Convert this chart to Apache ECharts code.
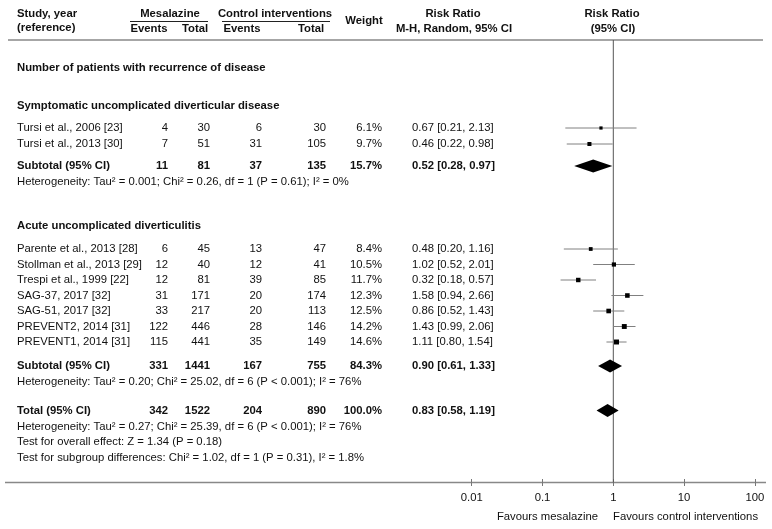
<!DOCTYPE html>
<html><head><meta charset="utf-8">
<script src="https://cdn.jsdelivr.net/npm/echarts@6/dist/echarts.min.js"></script>
<style>html,body{margin:0;padding:0;background:#fff}#c{width:772px;height:529px}</style>
</head><body><div id="c"></div>
<script>
// ---------- data ----------
const studyNames = ["Tursi et al., 2006 [23]","Tursi et al., 2013 [30]","Parente et al., 2013 [28]","Stollman et al., 2013 [29]","Trespi et al., 1999 [22]","SAG-37, 2017 [32]","SAG-51, 2017 [32]","PREVENT2, 2014 [31]","PREVENT1, 2014 [31]"];
const mesEvents = [4,7,6,12,12,31,33,122,115];
const mesTotal  = [30,51,45,40,81,171,217,446,441];
const ctlEvents = [6,31,13,12,39,20,20,28,35];
const ctlTotal  = [30,105,47,41,85,174,113,146,149];
const weights   = [6.1,9.7,8.4,10.5,11.7,12.3,12.5,14.2,14.6];
const rr = [0.67,0.46,0.48,1.02,0.32,1.58,0.86,1.43,1.11];
const lo = [0.21,0.22,0.20,0.52,0.18,0.94,0.52,0.99,0.80];
const hi = [2.13,0.98,1.16,2.01,0.57,2.66,1.43,2.06,1.54];

const sumNames     = ["Subtotal (95% CI)","Subtotal (95% CI)","Total (95% CI)"];
const sumMesEvents = [11,331,342];
const sumMesTotal  = [81,1441,1522];
const sumCtlEvents = [37,167,204];
const sumCtlTotal  = [135,755,890];
const sumWeights   = [15.7,84.3,100.0];
const sumRR = [0.52,0.90,0.83];
const sumLo = [0.28,0.61,0.58];
const sumHi = [0.97,1.33,1.19];

const outcomeTitle = "Number of patients with recurrence of disease";
const groupTitles = ["Symptomatic uncomplicated diverticular disease","Acute uncomplicated diverticulitis"];
const hetTexts = [
  "Heterogeneity: Tau\u00b2 = 0.001; Chi\u00b2 = 0.26, df = 1 (P = 0.61); I\u00b2 = 0%",
  "Heterogeneity: Tau\u00b2 = 0.20; Chi\u00b2 = 25.02, df = 6 (P < 0.001); I\u00b2 = 76%",
  "Heterogeneity: Tau\u00b2 = 0.27; Chi\u00b2 = 25.39, df = 6 (P < 0.001); I\u00b2 = 76%"
];
const testTexts = [
  "Test for overall effect: Z = 1.34 (P = 0.18)",
  "Test for subgroup differences: Chi\u00b2 = 1.02, df = 1 (P = 0.31), I\u00b2 = 1.8%"
];
const tickLabels = ["0.01","0.1","1","10","100"];
const favourLeft = "Favours mesalazine";
const favourRight = "Favours control interventions";

// ---------- layout (row positions, page y) ----------
const studyRowY = [128,144,249,264.5,280,295.5,311,326.5,342];
const sumRowY   = [166,366,410.5];
const hetRowY   = [182,382,426.5];
const testRowY  = [442,457.5];
const groupRowY = [106,226];
const outcomeY  = 68;
const TOP = 40, AXIS_Y = 482.5;

const FONT = '"Liberation Sans", Arial, Helvetica, sans-serif';
const FS = 11.3;
const COL = {name:17, mesE:168, mesT:210, ctlE:262, ctlT:326, w:382, rr:412};
const ink = '#111';

function txt(t, x, y, align, bold, extra) {
  return Object.assign({type:'text', x:x, y:y, silent:true, style:{
    text:t, fill:ink, font:(bold?'bold ':'')+FS+'px '+FONT,
    textAlign:align||'left', textVerticalAlign:'middle'}}, extra||{});
}
function fmtRR(v,l,h){return v.toFixed(2)+' ['+l.toFixed(2)+', '+h.toFixed(2)+']';}

const g = [];
// header
g.push(txt('Study, year',COL.name,14,'left',true));
g.push(txt('(reference)',COL.name,28,'left',true));
g.push(txt('Mesalazine',170,14,'center',true));
g.push(txt('Control interventions',275,14,'center',true));
g.push(txt('Events',149,29,'center',true));
g.push(txt('Total',195,29,'center',true));
g.push(txt('Events',242,29,'center',true));
g.push(txt('Total',311,29,'center',true));
g.push(txt('Weight',364,21,'center',true));
g.push(txt('Risk Ratio',453,14,'center',true));
g.push(txt('M-H, Random, 95% CI',454,29,'center',true));
g.push(txt('Risk Ratio',612,14,'center',true));
g.push(txt('(95% CI)',613,29,'center',true));
g.push({type:'line',silent:true,shape:{x1:130,y1:21.5,x2:208,y2:21.5},style:{stroke:'#222',lineWidth:1}});
g.push({type:'line',silent:true,shape:{x1:222,y1:21.5,x2:330,y2:21.5},style:{stroke:'#222',lineWidth:1}});
g.push({type:'line',silent:true,shape:{x1:8,y1:TOP,x2:763,y2:TOP},style:{stroke:'#888',lineWidth:1.5}});
g.push({type:'line',silent:true,shape:{x1:5,y1:AXIS_Y,x2:766,y2:AXIS_Y},style:{stroke:'#888',lineWidth:1.5}});

g.push(txt(outcomeTitle,COL.name,outcomeY,'left',true));
groupTitles.forEach((t,i)=>g.push(txt(t,COL.name,groupRowY[i],'left',true)));
studyNames.forEach((n,i)=>{
  const y = studyRowY[i];
  g.push(txt(n,COL.name,y,'left',false));
  g.push(txt(String(mesEvents[i]),COL.mesE,y,'right',false));
  g.push(txt(String(mesTotal[i]),COL.mesT,y,'right',false));
  g.push(txt(String(ctlEvents[i]),COL.ctlE,y,'right',false));
  g.push(txt(String(ctlTotal[i]),COL.ctlT,y,'right',false));
  g.push(txt(weights[i].toFixed(1)+'%',COL.w,y,'right',false));
  g.push(txt(fmtRR(rr[i],lo[i],hi[i]),COL.rr,y,'left',false));
});
sumNames.forEach((n,i)=>{
  const y = sumRowY[i];
  g.push(txt(n,COL.name,y,'left',true));
  g.push(txt(String(sumMesEvents[i]),COL.mesE,y,'right',true));
  g.push(txt(String(sumMesTotal[i]),COL.mesT,y,'right',true));
  g.push(txt(String(sumCtlEvents[i]),COL.ctlE,y,'right',true));
  g.push(txt(String(sumCtlTotal[i]),COL.ctlT,y,'right',true));
  g.push(txt(sumWeights[i].toFixed(1)+'%',COL.w,y,'right',true));
  g.push(txt(fmtRR(sumRR[i],sumLo[i],sumHi[i]),COL.rr,y,'left',true));
});
hetTexts.forEach((t,i)=>g.push(txt(t,COL.name,hetRowY[i],'left',false)));
testTexts.forEach((t,i)=>g.push(txt(t,COL.name,testRowY[i],'left',false)));
g.push(txt(favourLeft,598,517,'right',false));
g.push(txt(favourRight,613,517,'left',false));

const studyData = rr.map((v,i)=>[v,lo[i],hi[i],weights[i],studyRowY[i]]);
const sumData = sumRR.map((v,i)=>[v,sumLo[i],sumHi[i],sumRowY[i]]);

const chart = echarts.init(document.getElementById('c'),null,{renderer:'canvas'});
const axisCommon = {
  type:'log', logBase:10, min:0.01, max:100, position:'bottom',
  axisLine:{show:false}, splitLine:{show:false}, minorTick:{show:false}
};
chart.setOption({
  animation:false,
  backgroundColor:'#fff',
  grid:{left:471.7, right:772-754.9, top:TOP, bottom:529-AXIS_Y},
  xAxis:[
    Object.assign({}, axisCommon, {
      axisTick:{show:true,length:3.5,inside:false,lineStyle:{color:'#777',width:1}},
      axisLabel:{show:true,margin:10,color:ink,fontSize:FS,fontFamily:FONT,
        formatter:(v)=>{const k=Math.round(Math.log10(v))+2;return tickLabels[k]!==undefined?tickLabels[k]:'';}}
    }),
    Object.assign({}, axisCommon, {
      axisTick:{show:true,length:3.5,inside:true,lineStyle:{color:'#777',width:1}},
      axisLabel:{show:false}
    })
  ],
  yAxis:{type:'value', min:TOP, max:AXIS_Y, inverse:true, show:false},
  graphic:g,
  series:[
    {type:'custom', xAxisIndex:0, data:[[1]], z:1,
      renderItem:(p,api)=>{
        const a=api.coord([1,TOP]), b=api.coord([1,AXIS_Y]);
        return {type:'line',shape:{x1:a[0],y1:a[1],x2:b[0],y2:b[1]},style:{stroke:'#555',lineWidth:1}};
      }},
    {type:'custom', xAxisIndex:0, data:studyData, z:3,
      renderItem:(p,api)=>{
        const y=api.value(4);
        const c=api.coord([api.value(0),y]);
        const l=api.coord([api.value(1),y]);
        const h=api.coord([api.value(2),y]);
        const s=1.3*Math.sqrt(api.value(3));
        return {type:'group',children:[
          {type:'line',shape:{x1:l[0],y1:c[1],x2:h[0],y2:c[1]},style:{stroke:'#808080',lineWidth:1}},
          {type:'rect',shape:{x:c[0]-s/2,y:c[1]-s/2,width:s,height:s},style:{fill:'#000'}}
        ]};
      }},
    {type:'custom', xAxisIndex:0, data:sumData, z:3,
      renderItem:(p,api)=>{
        const y=api.value(3);
        const c=api.coord([api.value(0),y]);
        const l=api.coord([api.value(1),y]);
        const h=api.coord([api.value(2),y]);
        const hh=6.5;
        return {type:'polygon',shape:{points:[[l[0],c[1]],[c[0],c[1]-hh],[h[0],c[1]],[c[0],c[1]+hh]]},style:{fill:'#000'}};
      }}
  ]
});
</script></body></html>
